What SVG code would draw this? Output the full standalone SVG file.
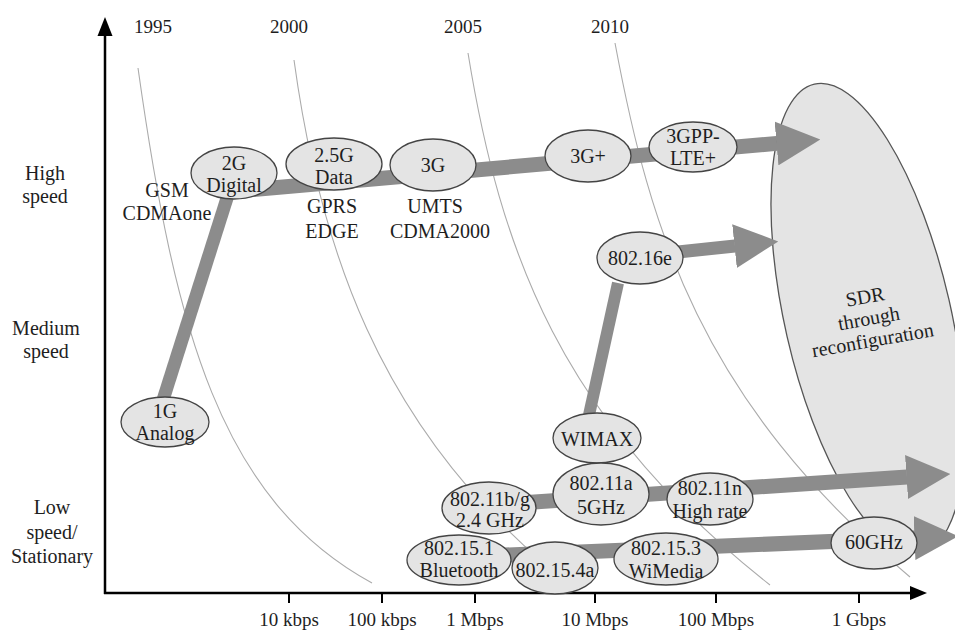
<svg xmlns="http://www.w3.org/2000/svg" width="955" height="631" viewBox="0 0 955 631">
<style>
.curve{fill:none;stroke:#ababab;stroke-width:1.1}
.band{fill:none;stroke:#8c8c8c;stroke-width:15}
.node ellipse{fill:#e4e4e4;stroke:#444;stroke-width:1.3}
.sdr{fill:#e4e4e4;stroke:#555;stroke-width:1.3}
text{font-family:"Liberation Serif","Times New Roman",serif;font-size:20px;fill:#1e1e1e;text-anchor:middle}
.ax{font-size:19px}
.ylab{font-size:20px}
.axis{stroke:#000;stroke-width:2.5;fill:none}
.tick{stroke:#000;stroke-width:2}
</style>
<defs>
<marker id="head" markerUnits="userSpaceOnUse" markerWidth="44" markerHeight="44" viewBox="0 0 44 44" refX="0.5" refY="22" orient="auto">
<path d="M0,0 L44,22 L0,44 z" fill="#8c8c8c"/>
</marker>
</defs>
<rect width="955" height="631" fill="#fff"/>

<g id="year-curves">
<path class="curve" d="M138,68 C175,330 220,500 372,583"/>
<path class="curve" d="M294,60 C320,250 380,420 540,560"/>
<path class="curve" d="M468,53 C500,250 560,420 770,585"/>
<path class="curve" d="M615,43 C650,230 700,400 910,577"/>
</g>

<g id="sdr">
<ellipse class="sdr" cx="868" cy="318" rx="83" ry="240" transform="rotate(-12.9 868 318)"/>
<g transform="rotate(-10 870 325)">
<text x="870" y="303">SDR</text>
<text x="870" y="325">through</text>
<text x="870" y="347">reconfiguration</text>
</g>
</g>

<g id="axes">
<line class="axis" x1="105" y1="594" x2="105" y2="34"/>
<polygon points="97.5,36 105,17 112.5,36" fill="#000"/>
<line class="axis" x1="104" y1="593" x2="912" y2="593"/>
<polygon points="910,586 927,593 910,600" fill="#000"/>
<line class="tick" x1="289" y1="593" x2="289" y2="603"/>
<line class="tick" x1="382" y1="593" x2="382" y2="603"/>
<line class="tick" x1="475" y1="593" x2="475" y2="603"/>
<line class="tick" x1="595" y1="593" x2="595" y2="603"/>
<line class="tick" x1="716" y1="593" x2="716" y2="603"/>
<line class="tick" x1="859" y1="593" x2="859" y2="603"/>
<text class="ax" x="289" y="626">10 kbps</text>
<text class="ax" x="382" y="626">100 kbps</text>
<text class="ax" x="475" y="626">1 Mbps</text>
<text class="ax" x="595" y="626">10 Mbps</text>
<text class="ax" x="716" y="626">100 Mbps</text>
<text class="ax" x="859" y="626">1 Gbps</text>
<text class="ax" x="153" y="33">1995</text>
<text class="ax" x="289" y="33">2000</text>
<text class="ax" x="463" y="33">2005</text>
<text class="ax" x="610" y="33">2010</text>
<text class="ylab" x="45" y="180">High</text>
<text class="ylab" x="45" y="203">speed</text>
<text class="ylab" x="46" y="335">Medium</text>
<text class="ylab" x="46" y="358">speed</text>
<text class="ylab" x="52" y="514">Low</text>
<text class="ylab" x="52" y="539">speed/</text>
<text class="ylab" x="52" y="563">Stationary</text>
</g>

<g id="connectors">
<path class="band" style="stroke-width:13" d="M163,400 L228,195"/>
<path class="band" d="M240,190.7 L777,143.4" marker-end="url(#head)"/>
<path class="band" style="stroke-width:13" d="M640,256 L735,246" marker-end="url(#head)"/>
<path class="band" style="stroke-width:12" d="M589,415 L618,283"/>
<path class="band" d="M489,505 L907,477" marker-end="url(#head)"/>
<path class="band" d="M459,557 L915,538" marker-end="url(#head)"/>
</g>

<g id="n-1g" class="node"><ellipse cx="165" cy="422" rx="44" ry="25"/><text x="165" y="418">1G</text><text x="165" y="440">Analog</text></g>
<g id="n-2g" class="node"><ellipse cx="234" cy="173" rx="43" ry="26"/><text x="234" y="170">2G</text><text x="234" y="192">Digital</text></g>
<g id="n-25g" class="node"><ellipse cx="334" cy="164" rx="48" ry="26"/><text x="334" y="162">2.5G</text><text x="334" y="184">Data</text></g>
<g id="n-3g" class="node"><ellipse cx="433" cy="165" rx="43" ry="26"/><text x="433" y="172">3G</text></g>
<g id="n-3gplus" class="node"><ellipse cx="588" cy="156" rx="43" ry="26"/><text x="588" y="163">3G+</text></g>
<g id="n-lte" class="node"><ellipse cx="693" cy="147" rx="44" ry="25"/><text x="693" y="143">3GPP-</text><text x="693" y="165">LTE+</text></g>
<g id="n-80216e" class="node"><ellipse cx="640" cy="258" rx="43" ry="26"/><text x="640" y="265">802.16e</text></g>
<g id="n-wimax" class="node"><ellipse cx="597" cy="438" rx="44" ry="25"/><text x="597" y="446">WIMAX</text></g>
<g id="n-80211bg" class="node"><ellipse cx="489" cy="508" rx="47" ry="26"/><text x="490" y="506">802.11b/g</text><text x="490" y="527">2.4 GHz</text></g>
<g id="n-80211a" class="node"><ellipse cx="601" cy="494" rx="48" ry="31"/><text x="601" y="490">802.11a</text><text x="601" y="514">5GHz</text></g>
<g id="n-80211n" class="node"><ellipse cx="710" cy="499" rx="43" ry="26"/><text x="710" y="495">802.11n</text><text x="710" y="518">High rate</text></g>
<g id="n-802151" class="node"><ellipse cx="459" cy="560" rx="52" ry="25"/><text x="459" y="555">802.15.1</text><text x="459" y="577">Bluetooth</text></g>
<g id="n-802154a" class="node"><ellipse cx="555" cy="568" rx="43" ry="26"/><text x="555" y="577">802.15.4a</text></g>
<g id="n-802153" class="node"><ellipse cx="666" cy="559" rx="52" ry="26"/><text x="666" y="555">802.15.3</text><text x="666" y="578">WiMedia</text></g>
<g id="n-60ghz" class="node"><ellipse cx="874" cy="543" rx="43" ry="26"/><text x="874" y="549">60GHz</text></g>

<g id="labels">
<text x="167" y="197">GSM</text>
<text x="167" y="220">CDMAone</text>
<text x="332" y="213">GPRS</text>
<text x="332" y="238">EDGE</text>
<text x="435" y="213">UMTS</text>
<text x="440" y="238">CDMA2000</text>
</g>
</svg>
